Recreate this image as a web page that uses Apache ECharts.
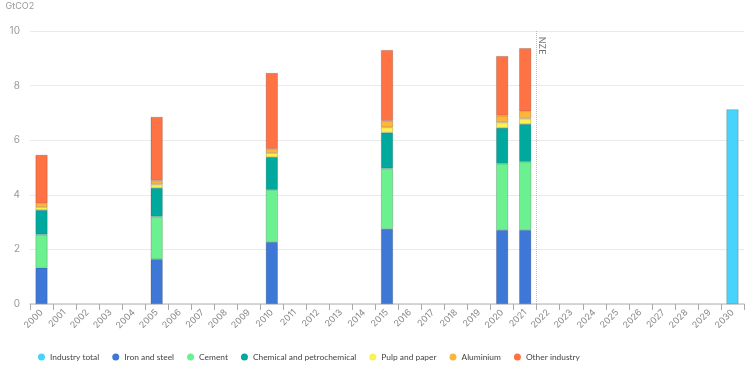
<!DOCTYPE html>
<html><head><meta charset="utf-8">
<script src="https://cdn.jsdelivr.net/npm/echarts@6/dist/echarts.min.js"></script>
<style>html,body{margin:0;padding:0;background:#fff}#c{width:754px;height:381px}</style>
</head><body><div id="c"></div>
<script>
const years = ['2000','2001','2002','2003','2004','2005','2006','2007','2008','2009','2010','2011','2012','2013','2014','2015','2016','2017','2018','2019','2020','2021','2022','2023','2024','2025','2026','2027','2028','2029','2030'];
const reportYears = ['2000','2005','2010','2015','2020','2021'];
const ironSteel = [1.33, 1.64, 2.27, 2.75, 2.71, 2.71];
const cement = [1.21, 1.56, 1.91, 2.21, 2.43, 2.50];
const chemical = [0.90, 1.05, 1.20, 1.32, 1.31, 1.38];
const pulpPaper = [0.11, 0.13, 0.15, 0.19, 0.20, 0.20];
const aluminium = [0.14, 0.14, 0.15, 0.24, 0.25, 0.27];
const otherIndustry = [1.77, 2.33, 2.78, 2.59, 2.18, 2.31];
const totalYears = ['2030'];
const industryTotal = [7.13];
const nzeLine = 21.5;
const yTicks = [0, 2, 4, 6, 8, 10];

function expand(cats, vals) {
  return years.map(y => { const i = cats.indexOf(y); return i >= 0 ? vals[i] : null; });
}
const border = 'rgba(40,40,40,0.35)';
function bar(name, cats, vals, color) {
  return { name, type: 'bar', stack: 'a', barWidth: 12, data: expand(cats, vals),
    itemStyle: { color, borderColor: border, borderWidth: 0.6 }, emphasis: { disabled: true } };
}
const chart = echarts.init(document.getElementById('c'), null, { renderer: 'canvas' });
chart.setOption({
  animation: false,
  textStyle: { fontFamily: 'Inter' },
  grid: { left: 30, right: 10, top: 31, bottom: 77 },
  legend: {
    left: 33, top: 348, icon: 'circle', itemWidth: 7, itemHeight: 7, itemGap: 13,
    itemStyle: { borderWidth: 0 },
    textStyle: { color: '#444', fontSize: 8.4, fontFamily: 'Lato' },
    data: ['Industry total','Iron and steel','Cement','Chemical and petrochemical','Pulp and paper','Aluminium','Other industry']
  },
  xAxis: [{
    type: 'category', data: years, boundaryGap: true,
    axisLine: { lineStyle: { color: '#ccc', width: 1.5 } },
    axisTick: { show: true, length: 6, lineStyle: { color: '#aaa' } },
    axisLabel: { rotate: 45, color: '#888', fontSize: 9, margin: 7 }
  }, {
    type: 'value', min: -0.5, max: 30.5, show: false
  }],
  yAxis: {
    type: 'value', min: 0, max: 10, interval: 2, name: 'GtCO2',
    nameLocation: 'end', nameGap: 20,
    nameTextStyle: { color: '#999', fontSize: 9, align: 'left', padding: [0, 0, 0, -36] },
    axisLine: { show: false }, axisTick: { show: false },
    axisLabel: { color: '#999', fontSize: 10, margin: 10, formatter: v => yTicks.includes(v) ? v : '' },
    splitLine: { lineStyle: { color: '#eaeaea' } }
  },
  series: [
    bar('Industry total', totalYears, industryTotal, '#48d3fd'),
    bar('Iron and steel', reportYears, ironSteel, '#3d78d6'),
    bar('Cement', reportYears, cement, '#6cf190'),
    bar('Chemical and petrochemical', reportYears, chemical, '#00a99e'),
    bar('Pulp and paper', reportYears, pulpPaper, '#fdf050'),
    bar('Aluminium', reportYears, aluminium, '#feb53c'),
    bar('Other industry', reportYears, otherIndustry, '#fe7244'),
    {
      name: 'NZE', type: 'scatter', xAxisIndex: 1, yAxisIndex: 0, symbolSize: 0,
      data: [[nzeLine, 9.9]], silent: true,
      label: { show: true, formatter: 'NZE', position: 'inside', rotate: -90, align: 'left',
        verticalAlign: 'middle', offset: [3, -5], color: '#555', fontSize: 9 },
      markLine: { silent: true, symbol: 'none', label: { show: false },
        lineStyle: { type: 'dotted', color: '#bbb', width: 1 },
        data: [[{ coord: [nzeLine, 10] }, { coord: [nzeLine, 0] }]] }
    }
  ]
});
</script></body></html>
